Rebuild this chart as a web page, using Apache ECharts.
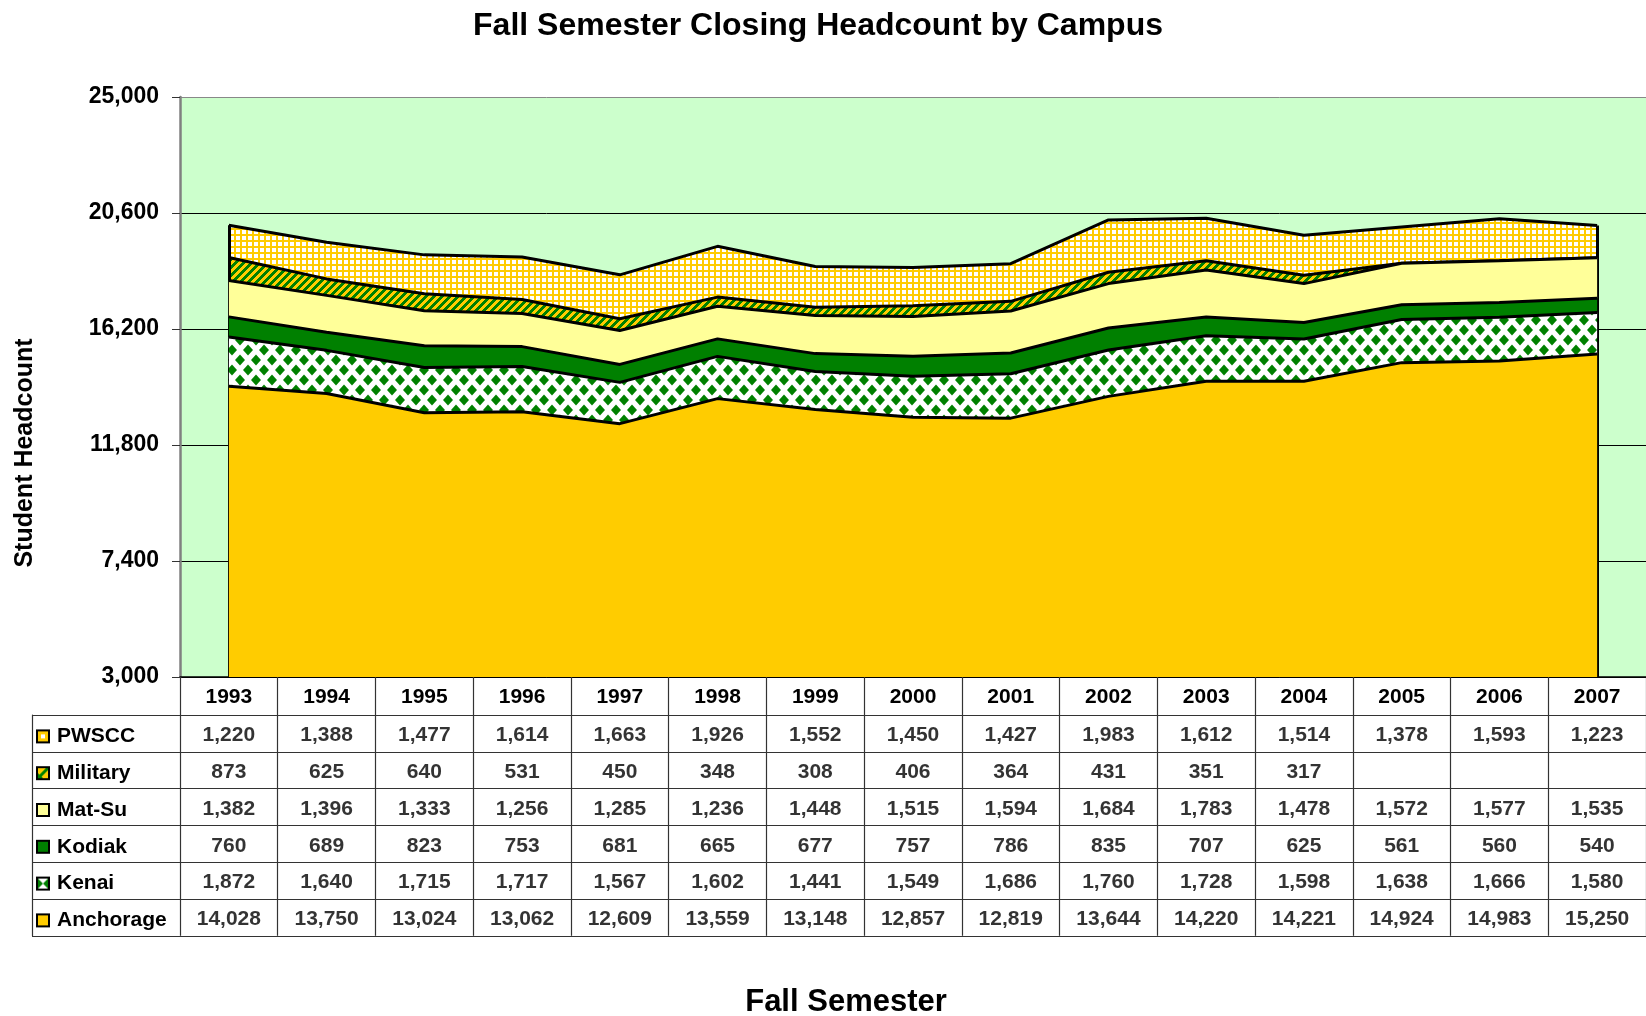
<!DOCTYPE html>
<html>
<head>
<meta charset="utf-8">
<script src="https://cdn.jsdelivr.net/npm/echarts@6/dist/echarts.min.js"></script>
<style>
html,body{margin:0;padding:0;background:#fff;}
#chart{width:1646px;height:1016px;}
</style>
</head>
<body>
<div id="chart"></div>
<script>
// ---------------- DATA ----------------
const years = ['1993','1994','1995','1996','1997','1998','1999','2000','2001','2002','2003','2004','2005','2006','2007'];
const campusNames = ['PWSCC','Military','Mat-Su','Kodiak','Kenai','Anchorage'];
const pwscc     = [1220,1388,1477,1614,1663,1926,1552,1450,1427,1983,1612,1514,1378,1593,1223];
const military  = [873,625,640,531,450,348,308,406,364,431,351,317,null,null,null];
const matsu     = [1382,1396,1333,1256,1285,1236,1448,1515,1594,1684,1783,1478,1572,1577,1535];
const kodiak    = [760,689,823,753,681,665,677,757,786,835,707,625,561,560,540];
const kenai     = [1872,1640,1715,1717,1567,1602,1441,1549,1686,1760,1728,1598,1638,1666,1580];
const anchorage = [14028,13750,13024,13062,12609,13559,13148,12857,12819,13644,14220,14221,14924,14983,15250];
const yMin = 3000, yMax = 25000, yInterval = 4400;

// ---------------- STYLE HELPERS ----------------
const FONT = "'Liberation Sans', Arial, sans-serif";
const GOLD = '#FFCC00', GREEN = '#008000', LIGHTY = '#FFFF99', BG = '#CCFFCC';

function mk(w, h, draw) { const c = document.createElement('canvas'); c.width = w; c.height = h; draw(c.getContext('2d'), w, h); return c; }

const pwsccPat = mk(6, 6, (g) => { g.fillStyle = '#fff'; g.fillRect(0,0,6,6); g.fillStyle = GOLD; g.fillRect(0,0,6,2); g.fillRect(0,0,2,6); });
const milPat = mk(8, 8, (g) => {
  g.fillStyle = GOLD; g.fillRect(0,0,8,8);
  g.fillStyle = GREEN;
  for (let y = 0; y < 8; y++) for (let x = 0; x < 8; x++) { if (((x + y) % 8) < 4) g.fillRect(x, y, 1, 1); }
});
const kenaiPat = mk(16, 20, (g) => {
  g.fillStyle = '#fff'; g.fillRect(0,0,16,20);
  g.fillStyle = GREEN;
  const dia = (cx, cy) => { g.beginPath(); g.moveTo(cx-5, cy); g.lineTo(cx, cy-5.5); g.lineTo(cx+5, cy); g.lineTo(cx, cy+5.5); g.closePath(); g.fill(); };
  dia(0,0); dia(16,0); dia(0,20); dia(16,20); dia(8,10);
});

// legend keys
function key(drawInner) { return mk(14, 14, (g) => { g.fillStyle = '#000'; g.fillRect(0,0,14,14); g.save(); g.beginPath(); g.rect(2,2,10,10); g.clip(); drawInner(g); g.restore(); }); }
const keys = {
  PWSCC: key(g => { g.fillStyle = GOLD; g.fillRect(2,2,10,10); g.fillStyle = '#fff'; g.fillRect(5,5,4,4); }),
  Military: key(g => { g.fillStyle = GOLD; g.fillRect(2,2,10,10); g.strokeStyle = GREEN; g.lineWidth = 3; g.beginPath(); g.moveTo(1,13); g.lineTo(13,1); g.stroke(); g.fillStyle = GREEN; g.beginPath(); g.moveTo(2,12); g.lineTo(2,7); g.lineTo(7,12); g.closePath(); g.fill(); }),
  'Mat-Su': key(g => { g.fillStyle = LIGHTY; g.fillRect(2,2,10,10); }),
  Kodiak: key(g => { g.fillStyle = GREEN; g.fillRect(2,2,10,10); }),
  Kenai: key(g => { g.fillStyle = '#fff'; g.fillRect(2,2,10,10); g.fillStyle = GREEN; g.beginPath(); g.moveTo(2,2); g.lineTo(7,7); g.lineTo(2,12); g.closePath(); g.fill(); g.beginPath(); g.moveTo(12,2); g.lineTo(7,7); g.lineTo(12,12); g.closePath(); g.fill(); }),
  Anchorage: key(g => { g.fillStyle = GOLD; g.fillRect(2,2,10,10); })
};

const fmt = v => (v === null || v === undefined) ? '' : v.toLocaleString('en-US');

// ---------------- LAYOUT ----------------
const gridLeft = 180, gridRight = -2;
const plotTop = 97, plotBottomY = 677;
const headerH = 38;
const tableTop = plotBottomY + headerH, rowH = 36.8;
const leftColW = 148;
const TABLE_LINE = '#333';

const seriesInfo = [
  { name: 'Anchorage', data: anchorage, color: GOLD, z: 8 },
  { name: 'Kenai', data: kenai, color: { image: kenaiPat, repeat: 'repeat' }, z: 7 },
  { name: 'Kodiak', data: kodiak, color: GREEN, z: 6 },
  { name: 'Mat-Su', data: matsu, color: LIGHTY, z: 5 },
  { name: 'Military', data: military.map(v => v === null ? 0 : v), color: { image: milPat, repeat: 'repeat' }, z: 4 },
  { name: 'PWSCC', data: pwscc, color: { image: pwsccPat, repeat: 'repeat' }, z: 3 }
];
const rowArrays = { 'PWSCC': pwscc, 'Military': military, 'Mat-Su': matsu, 'Kodiak': kodiak, 'Kenai': kenai, 'Anchorage': anchorage };
const totals = years.map((_, i) => anchorage[i] + kenai[i] + kodiak[i] + matsu[i] + (military[i] || 0) + pwscc[i]);

const areaSeries = seriesInfo.map(s => ({
  name: s.name, type: 'line', stack: 'total', xAxisIndex: 0, yAxisIndex: 0,
  data: s.data, symbol: 'none', z: s.z, silent: true,
  lineStyle: { color: '#000', width: 3 },
  areaStyle: { color: s.color, opacity: 1 }
}));
areaSeries[0].markLine = {
  silent: true, symbol: ['none', 'none'], label: { show: false },
  lineStyle: { color: '#000', width: 3, type: 'solid' },
  data: [
    [{ coord: [0, yMin] }, { coord: [0, totals[0]] }],
    [{ coord: [years.length - 1, yMin] }, { coord: [years.length - 1, totals[years.length - 1]] }]
  ]
};

const tableData = [];
campusNames.forEach((n, r) => {
  rowArrays[n].forEach((v, i) => { if (v !== null) tableData.push([i, r, v]); });
});

const rich = { n: { fontSize: 21, fontWeight: 'bold', fontFamily: FONT, color: '#000', padding: [0, 0, 0, 7] } };
campusNames.forEach((n, i) => { rich['k' + i] = { width: 14, height: 14, backgroundColor: { image: keys[n] } }; });

const option = {
  animation: false,
  backgroundColor: '#fff',
  title: {
    text: 'Fall Semester Closing Headcount by Campus',
    left: 813, top: 5, textAlign: 'center',
    textStyle: { fontSize: 32, fontWeight: 'bold', fontFamily: FONT, color: '#000' }
  },
  graphic: [
    { type: 'text', x: 25, y: 453, rotation: Math.PI / 2,
      style: { text: 'Student Headcount', font: "bold 25px 'Liberation Sans', Arial, sans-serif", fill: '#000', textAlign: 'center', textVerticalAlign: 'middle' } },
    { type: 'text', x: 846, y: 1002,
      style: { text: 'Fall Semester', font: "bold 31px 'Liberation Sans', Arial, sans-serif", fill: '#000', textAlign: 'center', textVerticalAlign: 'middle' } }
  ],
  grid: [
    { left: gridLeft, right: gridRight, top: plotTop, bottom: 1016 - plotBottomY, show: true, backgroundColor: BG, borderWidth: 0 },
    { left: gridLeft, right: gridRight, top: tableTop, height: rowH * 6, show: false }
  ],
  xAxis: [
    { type: 'category', gridIndex: 0, data: years, boundaryGap: true,
      axisLine: { show: true, lineStyle: { color: '#000', width: 1.5 } },
      axisTick: { show: true, interval: 0, length: headerH, lineStyle: { color: TABLE_LINE, width: 1.2 } },
      axisLabel: { interval: 0, margin: 10, fontSize: 21, fontWeight: 'bold', fontFamily: FONT, color: '#000' },
      splitLine: { show: false } },
    { type: 'category', gridIndex: 1, data: years, boundaryGap: true,
      axisLine: { show: false }, axisTick: { show: false }, axisLabel: { show: false },
      splitLine: { show: true, interval: 0, lineStyle: { color: TABLE_LINE, width: 1.2 } } }
  ],
  yAxis: [
    { type: 'value', gridIndex: 0, min: yMin, max: yMax, interval: yInterval,
      axisLine: { show: true, lineStyle: { color: '#808080', width: 2.5 } },
      axisTick: { show: true, length: 8, lineStyle: { color: '#333', width: 1 } },
      axisLabel: { margin: 21, fontSize: 23, fontWeight: 'bold', fontFamily: FONT, color: '#000', formatter: v => fmt(v) },
      splitLine: { show: true, lineStyle: { color: ['#000', '#000', '#000', '#000', '#000', '#888'], width: 1 } } },
    { type: 'category', gridIndex: 1, data: campusNames, inverse: true, boundaryGap: true,
      axisLine: { show: false },
      axisTick: { show: true, interval: 0, length: leftColW, lineStyle: { color: TABLE_LINE, width: 1.2 } },
      axisLabel: { interval: 0, align: 'left', margin: leftColW - 4, padding: [6, 0, 0, 0],
        formatter: (v) => '{k' + campusNames.indexOf(v) + '|}{n|' + v + '}', rich: rich },
      splitLine: { show: true, interval: 0, lineStyle: { color: TABLE_LINE, width: 1.2 } } },
    { type: 'category', gridIndex: 1, data: campusNames, inverse: true, position: 'left', offset: leftColW,
      axisLine: { show: true, lineStyle: { color: TABLE_LINE, width: 1.2 } },
      axisTick: { show: false }, axisLabel: { show: false }, splitLine: { show: false } }
  ],
  series: areaSeries.concat([{
    type: 'scatter', xAxisIndex: 1, yAxisIndex: 1, data: tableData, symbolSize: 1, silent: true,
    itemStyle: { color: 'rgba(0,0,0,0)' },
    label: { show: true, position: 'inside', formatter: p => fmt(p.value[2]), fontSize: 21, fontWeight: 'bold', fontFamily: FONT, color: '#000', offset: [0, 2] }
  }])
};

const chart = echarts.init(document.getElementById('chart'), null, { renderer: 'canvas' });
chart.setOption(option);
</script>
</body>
</html>
